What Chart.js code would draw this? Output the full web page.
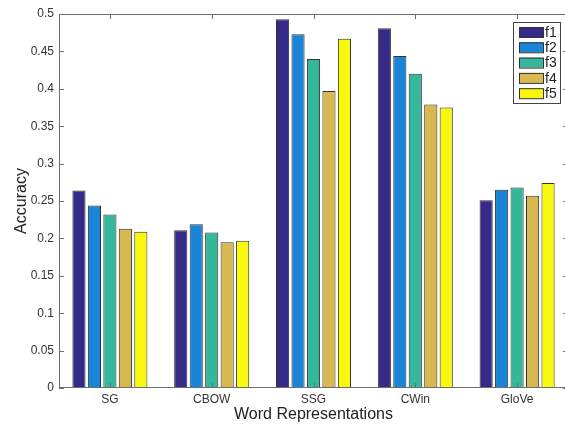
<!DOCTYPE html>
<html>
<head>
<meta charset="utf-8">
<script src="https://cdn.jsdelivr.net/npm/chart.js@4"></script>
<style>
  html, body { margin: 0; padding: 0; background: #fff; overflow: hidden; }
  #wrap { width: 570px; height: 424px; }
</style>
</head>
<body>
<div id="wrap"><canvas id="bar-chart"></canvas></div>
<script>
const categories = ["SG", "CBOW", "SSG", "CWin", "GloVe"];
const seriesNames = ["f1", "f2", "f3", "f4", "f5"];

const f1 = [0.264, 0.211, 0.493, 0.481, 0.251];
const f2 = [0.244, 0.219, 0.473, 0.444, 0.265];
const f3 = [0.232, 0.208, 0.440, 0.420, 0.268];
const f4 = [0.213, 0.195, 0.397, 0.379, 0.257];
const f5 = [0.209, 0.197, 0.467, 0.375, 0.274];

const yTicks = [0, 0.05, 0.1, 0.15, 0.2, 0.25, 0.3, 0.35, 0.4, 0.45, 0.5];

const colors = ["#352a87", "#1a84d6", "#35b79c", "#d8b850", "#f8f80c"];
const seriesValues = [f1, f2, f3, f4, f5];

const fontFamily = "'Liberation Sans', Arial, sans-serif";

// matlab style box with inward ticks
const boxPlugin = {
  id: "box",
  afterDraw(chart) {
    const ctx = chart.ctx;
    const a = chart.chartArea;
    const x = chart.scales.x;
    const y = chart.scales.y;
    ctx.save();
    ctx.strokeStyle = "#6e6e6e";
    ctx.lineWidth = 1;
    ctx.strokeRect(a.left + 0.5, a.top + 0.5, a.right - a.left - 1, a.bottom - a.top - 1);
    ctx.beginPath();
    yTicks.forEach((v) => {
      const py = Math.round(y.getPixelForValue(v)) + 0.5;
      ctx.moveTo(a.left, py);
      ctx.lineTo(a.left + 5, py);
      ctx.moveTo(a.right, py);
      ctx.lineTo(a.right - 5, py);
    });
    categories.forEach((c, i) => {
      const px = Math.round(x.getPixelForValue(i)) + 0.5;
      ctx.moveTo(px, a.bottom);
      ctx.lineTo(px, a.bottom - 5);
      ctx.moveTo(px, a.top);
      ctx.lineTo(px, a.top + 5);
    });
    ctx.stroke();
    ctx.restore();
  },
};

// legend box in the upper right
const legendPlugin = {
  id: "boxLegend",
  afterDraw(chart) {
    const ctx = chart.ctx;
    const left = 513, top = 22, w = 47, h = 81;
    ctx.save();
    ctx.fillStyle = "#fff";
    ctx.fillRect(left, top, w, h);
    ctx.strokeStyle = "#444";
    ctx.lineWidth = 1;
    ctx.strokeRect(left + 0.5, top + 0.5, w, h);
    ctx.font = "14px " + fontFamily;
    ctx.textBaseline = "middle";
    chart.data.datasets.forEach((ds, i) => {
      const cy = top + 10 + i * 15.3;
      ctx.fillStyle = ds.backgroundColor;
      ctx.fillRect(519, cy - 5, 24, 10);
      ctx.strokeStyle = "#333";
      ctx.strokeRect(519.5, cy - 4.5, 24, 10);
      ctx.fillStyle = "#222";
      ctx.fillText(ds.label, 545, cy + 1);
    });
    ctx.restore();
  },
};

const myChart = new Chart("bar-chart", {
  type: "bar",
  data: {
    labels: categories,
    datasets: seriesNames.map((name, i) => ({
      label: name,
      data: seriesValues[i],
      backgroundColor: colors[i],
      borderColor: "#333333",
      borderWidth: 1,
      borderSkipped: "bottom",
      categoryPercentage: 0.76,
      barPercentage: 0.85,
    })),
  },
  options: {
    responsive: true,
    maintainAspectRatio: false,
    animation: false,
    layout: {
      padding: { top: 14, right: 2, left: 0, bottom: 0 },
    },
    scales: {
      y: {
        min: 0,
        max: 0.5,
        afterFit: (axis) => { axis.width = 59; },
        afterBuildTicks: (axis) => {
          axis.ticks = yTicks.map((v) => ({ value: v }));
        },
        ticks: {
          padding: 5,
          color: "#333",
          font: { family: fontFamily, size: 12 },
          callback: (v) => String(Number(v.toFixed(2))),
        },
        title: {
          display: true,
          text: "Accuracy",
          color: "#222",
          font: { family: fontFamily, size: 16 },
          padding: { top: 12, bottom: 0 },
        },
        grid: { display: false, drawTicks: false },
        border: { display: false },
      },
      x: {
        afterFit: (axis) => { axis.height = 36; },
        ticks: {
          padding: 4,
          color: "#333",
          font: { family: fontFamily, size: 12 },
        },
        title: {
          display: true,
          text: "Word Representations",
          color: "#222",
          font: { family: fontFamily, size: 16 },
          padding: { top: 0, bottom: 0 },
        },
        grid: { display: false, drawTicks: false },
        border: { display: false },
      },
    },
    plugins: {
      legend: { display: false },
      tooltip: { enabled: false },
    },
  },
  plugins: [boxPlugin, legendPlugin],
});
</script>
</body>
</html>
